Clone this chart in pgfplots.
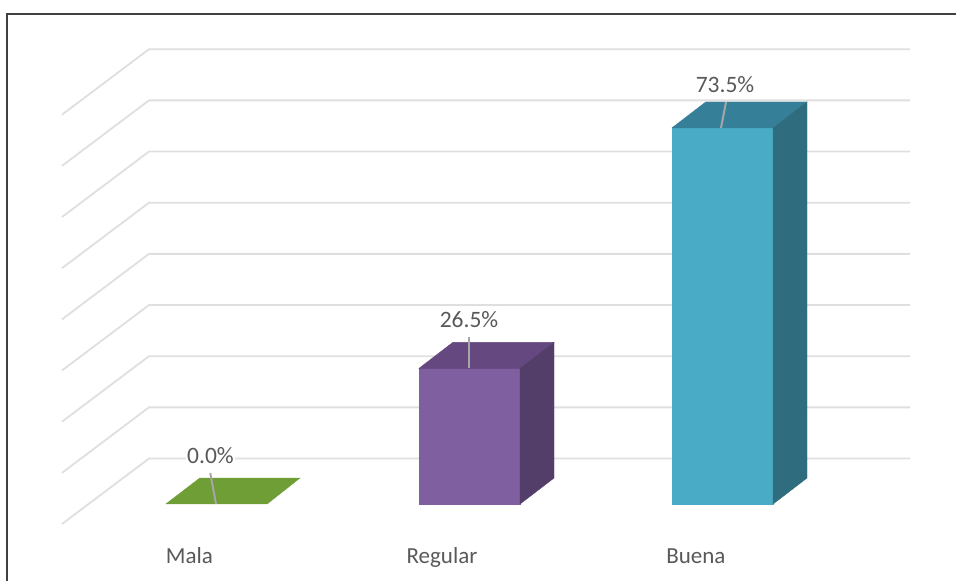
\documentclass[border=0pt]{standalone}
\usepackage{pgfplots}
\pgfplotsset{compat=1.18}
\usepackage{fontspec}
\setmainfont{Carlito}
\definecolor{gridc}{HTML}{DFDFDF}
\definecolor{txt}{HTML}{595959}
\definecolor{lead}{HTML}{A6A6A6}
\definecolor{gf}{HTML}{6E9E35}
\definecolor{pf}{HTML}{7F5F9F}
\definecolor{pt}{HTML}{64487F}
\definecolor{ps}{HTML}{533E69}
\definecolor{tf}{HTML}{4AABC6}
\definecolor{tt}{HTML}{357F99}
\definecolor{ts}{HTML}{2F6C7D}
\tikzset{dl/.style={inner sep=1pt,text=txt,font=\fontsize{23.5}{28}\selectfont}}
\begin{document}
\begin{tikzpicture}[x=1pt,y=1pt]
\useasboundingbox (0,0) rectangle (956,581);
\begin{axis}[
  at={(0pt,0pt)}, anchor=south west,
  width=956pt, height=581pt, scale only axis,
  xmin=-0.8557, xmax=2.9229, ymin=-15.05, ymax=98.51,
  clip=false,
  axis line style={draw=none},
  major tick length=0pt,
  ytick=\empty,
  xtick={-0.107,0.891,1.895},
  xticklabels={Mala,Regular,Buena},
  xticklabel style={anchor=base,yshift=18pt,font=\fontsize{23}{27}\selectfont,text=txt},
]
% back wall and side wall lines
\addplot[gridc,line width=1.8pt] coordinates {(-0.6107,-3.91)(-0.2668,8.89)(2.7411,8.89)};
\addplot[gridc,line width=1.8pt] coordinates {(-0.6107,6.09)(-0.2668,18.89)(2.7411,18.89)};
\addplot[gridc,line width=1.8pt] coordinates {(-0.6107,16.09)(-0.2668,28.89)(2.7411,28.89)};
\addplot[gridc,line width=1.8pt] coordinates {(-0.6107,26.09)(-0.2668,38.89)(2.7411,38.89)};
\addplot[gridc,line width=1.8pt] coordinates {(-0.6107,36.09)(-0.2668,48.89)(2.7411,48.89)};
\addplot[gridc,line width=1.8pt] coordinates {(-0.6107,46.09)(-0.2668,58.89)(2.7411,58.89)};
\addplot[gridc,line width=1.8pt] coordinates {(-0.6107,56.09)(-0.2668,68.89)(2.7411,68.89)};
\addplot[gridc,line width=1.8pt] coordinates {(-0.6107,66.09)(-0.2668,78.89)(2.7411,78.89)};
\addplot[gridc,line width=1.8pt] coordinates {(-0.6107,76.09)(-0.2668,88.89)(2.7411,88.89)};
% Mala 0.0
\addplot[fill=gf,draw=gf] coordinates {(-0.2,0)(0.2,0)(0.33,5.08)(-0.066,5.08)} --cycle;
% Regular 26.5
\addplot[fill=pf,draw=pf] coordinates {(0.8,0)(1.2,0)(1.2,26.5)(0.8,26.5)} --cycle;
\addplot[fill=pt,draw=pt] coordinates {(0.8,26.5)(1.2,26.5)(1.334,31.58)(0.934,31.58)} --cycle;
\addplot[fill=ps,draw=ps] coordinates {(1.2,0)(1.334,5.08)(1.334,31.58)(1.2,26.5)} --cycle;
% Buena 73.5
\addplot[fill=tf,draw=tf] coordinates {(1.8,0)(2.2,0)(2.2,73.5)(1.8,73.5)} --cycle;
\addplot[fill=tt,draw=tt] coordinates {(1.8,73.5)(2.2,73.5)(2.334,78.58)(1.934,78.58)} --cycle;
\addplot[fill=ts,draw=ts] coordinates {(2.2,0)(2.334,5.08)(2.334,78.58)(2.2,73.5)} --cycle;
% leader lines
\addplot[lead,line width=2pt] coordinates {(-0.0247,6.06)(-0.002,0)};
\addplot[lead,line width=2pt] coordinates {(0.9968,32.7)(0.9968,26.5)};
\addplot[lead,line width=2pt] coordinates {(2.014,78.58)(1.994,73.5)};
% data labels
\node[dl,fill=white] at (axis cs:-0.0237,9.38) {0.0\%};
\node[dl] at (axis cs:0.998,35.97) {26.5\%};
\node[dl] at (axis cs:2.0099,81.9) {73.5\%};
\end{axis}
\draw[color=black!75,line width=1.2pt] (7,0)--(7,567)--(956,567);
\end{tikzpicture}
\end{document}
